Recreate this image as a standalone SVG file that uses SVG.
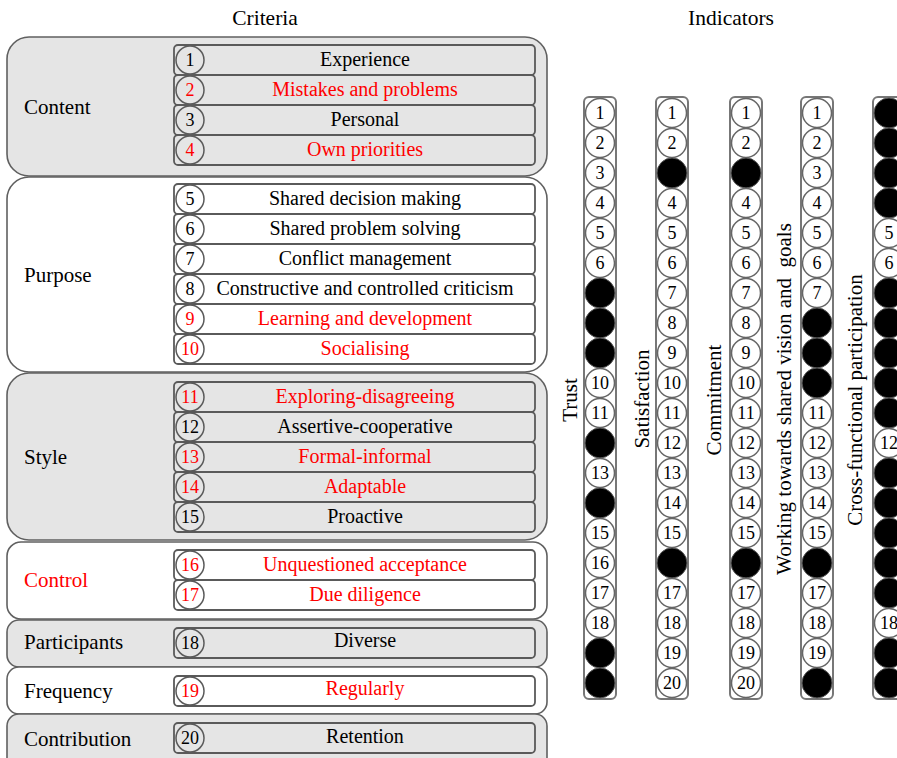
<svg xmlns="http://www.w3.org/2000/svg" width="897" height="758" viewBox="0 0 897 758">
<style>
text{font-family:"Liberation Serif","Times New Roman",serif;fill:#000}
.hd{font-size:21.5px;text-anchor:middle}
.gl{font-size:21px}
.rt{font-size:20px;text-anchor:middle}
.nm{font-size:18px;text-anchor:middle}
.red{fill:#ff0000}
.gg{fill:#e5e5e5;stroke:#606060;stroke-width:1.6}
.gw{fill:#ffffff;stroke:#606060;stroke-width:1.6}
.rg{fill:#e5e5e5;stroke:#5a5a5a;stroke-width:1.8}
.rw{fill:#ffffff;stroke:#5a5a5a;stroke-width:1.8}
.cg{fill:#e5e5e5;stroke:#5a5a5a;stroke-width:1.5}
.cw{fill:#ffffff;stroke:#5a5a5a;stroke-width:1.5}
.col{fill:#ffffff;stroke:#777;stroke-width:2}
.ow{fill:#ffffff;stroke:#666;stroke-width:1.5}
.ob{fill:#000;stroke:#555;stroke-width:1}
.vl{font-size:21px;text-anchor:middle}
</style>
<text class="hd" x="265" y="25">Criteria</text>
<text class="hd" x="731" y="25">Indicators</text>

<g id="content">
<rect class="gg" x="7" y="37" width="540" height="139" rx="22"/>
<text class="gl" x="24" y="114">Content</text>
<rect class="rg" x="174" y="45" width="361" height="30" rx="4"/><circle class="cg" cx="190" cy="60" r="14"/><text class="nm" x="190" y="66">1</text><text class="rt" x="365" y="66">Experience</text>
<rect class="rg" x="174" y="75" width="361" height="30" rx="4"/><circle class="cg" cx="190" cy="90" r="14"/><text class="nm red" x="190" y="96">2</text><text class="rt red" x="365" y="96">Mistakes and problems</text>
<rect class="rg" x="174" y="105" width="361" height="30" rx="4"/><circle class="cg" cx="190" cy="120" r="14"/><text class="nm" x="190" y="126">3</text><text class="rt" x="365" y="126">Personal</text>
<rect class="rg" x="174" y="135" width="361" height="30" rx="4"/><circle class="cg" cx="190" cy="150" r="14"/><text class="nm red" x="190" y="156">4</text><text class="rt red" x="365" y="156">Own priorities</text>
</g>

<g id="purpose">
<rect class="gw" x="7" y="177" width="540" height="195" rx="22"/>
<text class="gl" x="24" y="282">Purpose</text>
<rect class="rw" x="174" y="184" width="361" height="30" rx="4"/><circle class="cw" cx="190" cy="199" r="14"/><text class="nm" x="190" y="205">5</text><text class="rt" x="365" y="205">Shared decision making</text>
<rect class="rw" x="174" y="214" width="361" height="30" rx="4"/><circle class="cw" cx="190" cy="229" r="14"/><text class="nm" x="190" y="235">6</text><text class="rt" x="365" y="235">Shared problem solving</text>
<rect class="rw" x="174" y="244" width="361" height="30" rx="4"/><circle class="cw" cx="190" cy="259" r="14"/><text class="nm" x="190" y="265">7</text><text class="rt" x="365" y="265">Conflict management</text>
<rect class="rw" x="174" y="274" width="361" height="30" rx="4"/><circle class="cw" cx="190" cy="289" r="14"/><text class="nm" x="190" y="295">8</text><text class="rt" x="365" y="295">Constructive and controlled criticism</text>
<rect class="rw" x="174" y="304" width="361" height="30" rx="4"/><circle class="cw" cx="190" cy="319" r="14"/><text class="nm red" x="190" y="325">9</text><text class="rt red" x="365" y="325">Learning and development</text>
<rect class="rw" x="174" y="334" width="361" height="30" rx="4"/><circle class="cw" cx="190" cy="349" r="14"/><text class="nm red" x="190" y="355">10</text><text class="rt red" x="365" y="355">Socialising</text>
</g>

<g id="style">
<rect class="gg" x="7" y="373" width="540" height="167" rx="22"/>
<text class="gl" x="24" y="464">Style</text>
<rect class="rg" x="174" y="382" width="361" height="30" rx="4"/><circle class="cg" cx="190" cy="397" r="14"/><text class="nm red" x="190" y="403">11</text><text class="rt red" x="365" y="403">Exploring-disagreeing</text>
<rect class="rg" x="174" y="412" width="361" height="30" rx="4"/><circle class="cg" cx="190" cy="427" r="14"/><text class="nm" x="190" y="433">12</text><text class="rt" x="365" y="433">Assertive-cooperative</text>
<rect class="rg" x="174" y="442" width="361" height="30" rx="4"/><circle class="cg" cx="190" cy="457" r="14"/><text class="nm red" x="190" y="463">13</text><text class="rt red" x="365" y="463">Formal-informal</text>
<rect class="rg" x="174" y="472" width="361" height="30" rx="4"/><circle class="cg" cx="190" cy="487" r="14"/><text class="nm red" x="190" y="493">14</text><text class="rt red" x="365" y="493">Adaptable</text>
<rect class="rg" x="174" y="502" width="361" height="30" rx="4"/><circle class="cg" cx="190" cy="517" r="14"/><text class="nm" x="190" y="523">15</text><text class="rt" x="365" y="523">Proactive</text>
</g>

<g id="control">
<rect class="gw" x="7" y="542" width="540" height="77" rx="14"/>
<text class="gl red" x="24" y="587">Control</text>
<rect class="rw" x="174" y="550" width="361" height="30" rx="4"/><circle class="cw" cx="190" cy="565" r="14"/><text class="nm red" x="190" y="571">16</text><text class="rt red" x="365" y="571">Unquestioned acceptance</text>
<rect class="rw" x="174" y="580" width="361" height="30" rx="4"/><circle class="cw" cx="190" cy="595" r="14"/><text class="nm red" x="190" y="601">17</text><text class="rt red" x="365" y="601">Due diligence</text>
</g>

<g id="participants">
<rect class="gg" x="7" y="620" width="540" height="47" rx="12"/>
<text class="gl" x="24" y="649">Participants</text>
<rect class="rg" x="174" y="628" width="361" height="30" rx="4"/><circle class="cg" cx="190" cy="643" r="14"/><text class="nm" x="190" y="649">18</text><text class="rt" x="365" y="647">Diverse</text>
</g>

<g id="frequency">
<rect class="gw" x="7" y="667" width="540" height="47" rx="12"/>
<text class="gl" x="24" y="698">Frequency</text>
<rect class="rw" x="174" y="676" width="361" height="30" rx="4"/><circle class="cw" cx="190" cy="691" r="14"/><text class="nm red" x="190" y="697">19</text><text class="rt red" x="365" y="695">Regularly</text>
</g>

<g id="contribution">
<rect class="gg" x="7" y="714" width="540" height="60" rx="12"/>
<text class="gl" x="24" y="746">Contribution</text>
<rect class="rg" x="174" y="723" width="361" height="30" rx="4"/><circle class="cg" cx="190" cy="738" r="14"/><text class="nm" x="190" y="744">20</text><text class="rt" x="365" y="743">Retention</text>
</g>

<g id="trust">
<text class="vl" transform="translate(577,400) rotate(-90)">Trust</text>
<rect class="col" x="584" y="97" width="32" height="602" rx="5"/>
<circle class="ow" cx="600" cy="113" r="14.5"/><text class="nm" x="600" y="119">1</text>
<circle class="ow" cx="600" cy="143" r="14.5"/><text class="nm" x="600" y="149">2</text>
<circle class="ow" cx="600" cy="173" r="14.5"/><text class="nm" x="600" y="179">3</text>
<circle class="ow" cx="600" cy="203" r="14.5"/><text class="nm" x="600" y="209">4</text>
<circle class="ow" cx="600" cy="233" r="14.5"/><text class="nm" x="600" y="239">5</text>
<circle class="ow" cx="600" cy="263" r="14.5"/><text class="nm" x="600" y="269">6</text>
<circle class="ob" cx="600" cy="293" r="15"/>
<circle class="ob" cx="600" cy="323" r="15"/>
<circle class="ob" cx="600" cy="353" r="15"/>
<circle class="ow" cx="600" cy="383" r="14.5"/><text class="nm" x="600" y="389">10</text>
<circle class="ow" cx="600" cy="413" r="14.5"/><text class="nm" x="600" y="419">11</text>
<circle class="ob" cx="600" cy="443" r="15"/>
<circle class="ow" cx="600" cy="473" r="14.5"/><text class="nm" x="600" y="479">13</text>
<circle class="ob" cx="600" cy="503" r="15"/>
<circle class="ow" cx="600" cy="533" r="14.5"/><text class="nm" x="600" y="539">15</text>
<circle class="ow" cx="600" cy="563" r="14.5"/><text class="nm" x="600" y="569">16</text>
<circle class="ow" cx="600" cy="593" r="14.5"/><text class="nm" x="600" y="599">17</text>
<circle class="ow" cx="600" cy="623" r="14.5"/><text class="nm" x="600" y="629">18</text>
<circle class="ob" cx="600" cy="653" r="15"/>
<circle class="ob" cx="600" cy="683" r="15"/>
</g>

<g id="satisfaction">
<text class="vl" transform="translate(649,399) rotate(-90)">Satisfaction</text>
<rect class="col" x="656" y="97" width="32" height="602" rx="5"/>
<circle class="ow" cx="672" cy="113" r="14.5"/><text class="nm" x="672" y="119">1</text>
<circle class="ow" cx="672" cy="143" r="14.5"/><text class="nm" x="672" y="149">2</text>
<circle class="ob" cx="672" cy="173" r="15"/>
<circle class="ow" cx="672" cy="203" r="14.5"/><text class="nm" x="672" y="209">4</text>
<circle class="ow" cx="672" cy="233" r="14.5"/><text class="nm" x="672" y="239">5</text>
<circle class="ow" cx="672" cy="263" r="14.5"/><text class="nm" x="672" y="269">6</text>
<circle class="ow" cx="672" cy="293" r="14.5"/><text class="nm" x="672" y="299">7</text>
<circle class="ow" cx="672" cy="323" r="14.5"/><text class="nm" x="672" y="329">8</text>
<circle class="ow" cx="672" cy="353" r="14.5"/><text class="nm" x="672" y="359">9</text>
<circle class="ow" cx="672" cy="383" r="14.5"/><text class="nm" x="672" y="389">10</text>
<circle class="ow" cx="672" cy="413" r="14.5"/><text class="nm" x="672" y="419">11</text>
<circle class="ow" cx="672" cy="443" r="14.5"/><text class="nm" x="672" y="449">12</text>
<circle class="ow" cx="672" cy="473" r="14.5"/><text class="nm" x="672" y="479">13</text>
<circle class="ow" cx="672" cy="503" r="14.5"/><text class="nm" x="672" y="509">14</text>
<circle class="ow" cx="672" cy="533" r="14.5"/><text class="nm" x="672" y="539">15</text>
<circle class="ob" cx="672" cy="563" r="15"/>
<circle class="ow" cx="672" cy="593" r="14.5"/><text class="nm" x="672" y="599">17</text>
<circle class="ow" cx="672" cy="623" r="14.5"/><text class="nm" x="672" y="629">18</text>
<circle class="ow" cx="672" cy="653" r="14.5"/><text class="nm" x="672" y="659">19</text>
<circle class="ow" cx="672" cy="683" r="14.5"/><text class="nm" x="672" y="689">20</text>
</g>

<g id="commitment">
<text class="vl" transform="translate(721,400) rotate(-90)">Commitment</text>
<rect class="col" x="730" y="97" width="32" height="602" rx="5"/>
<circle class="ow" cx="746" cy="113" r="14.5"/><text class="nm" x="746" y="119">1</text>
<circle class="ow" cx="746" cy="143" r="14.5"/><text class="nm" x="746" y="149">2</text>
<circle class="ob" cx="746" cy="173" r="15"/>
<circle class="ow" cx="746" cy="203" r="14.5"/><text class="nm" x="746" y="209">4</text>
<circle class="ow" cx="746" cy="233" r="14.5"/><text class="nm" x="746" y="239">5</text>
<circle class="ow" cx="746" cy="263" r="14.5"/><text class="nm" x="746" y="269">6</text>
<circle class="ow" cx="746" cy="293" r="14.5"/><text class="nm" x="746" y="299">7</text>
<circle class="ow" cx="746" cy="323" r="14.5"/><text class="nm" x="746" y="329">8</text>
<circle class="ow" cx="746" cy="353" r="14.5"/><text class="nm" x="746" y="359">9</text>
<circle class="ow" cx="746" cy="383" r="14.5"/><text class="nm" x="746" y="389">10</text>
<circle class="ow" cx="746" cy="413" r="14.5"/><text class="nm" x="746" y="419">11</text>
<circle class="ow" cx="746" cy="443" r="14.5"/><text class="nm" x="746" y="449">12</text>
<circle class="ow" cx="746" cy="473" r="14.5"/><text class="nm" x="746" y="479">13</text>
<circle class="ow" cx="746" cy="503" r="14.5"/><text class="nm" x="746" y="509">14</text>
<circle class="ow" cx="746" cy="533" r="14.5"/><text class="nm" x="746" y="539">15</text>
<circle class="ob" cx="746" cy="563" r="15"/>
<circle class="ow" cx="746" cy="593" r="14.5"/><text class="nm" x="746" y="599">17</text>
<circle class="ow" cx="746" cy="623" r="14.5"/><text class="nm" x="746" y="629">18</text>
<circle class="ow" cx="746" cy="653" r="14.5"/><text class="nm" x="746" y="659">19</text>
<circle class="ow" cx="746" cy="683" r="14.5"/><text class="nm" x="746" y="689">20</text>
</g>

<g id="working">
<text class="vl" transform="translate(791,399) rotate(-90)" xml:space="preserve">Working towards shared vision and  goals</text>
<rect class="col" x="801" y="97" width="32" height="602" rx="5"/>
<circle class="ow" cx="817" cy="113" r="14.5"/><text class="nm" x="817" y="119">1</text>
<circle class="ow" cx="817" cy="143" r="14.5"/><text class="nm" x="817" y="149">2</text>
<circle class="ow" cx="817" cy="173" r="14.5"/><text class="nm" x="817" y="179">3</text>
<circle class="ow" cx="817" cy="203" r="14.5"/><text class="nm" x="817" y="209">4</text>
<circle class="ow" cx="817" cy="233" r="14.5"/><text class="nm" x="817" y="239">5</text>
<circle class="ow" cx="817" cy="263" r="14.5"/><text class="nm" x="817" y="269">6</text>
<circle class="ow" cx="817" cy="293" r="14.5"/><text class="nm" x="817" y="299">7</text>
<circle class="ob" cx="817" cy="323" r="15"/>
<circle class="ob" cx="817" cy="353" r="15"/>
<circle class="ob" cx="817" cy="383" r="15"/>
<circle class="ow" cx="817" cy="413" r="14.5"/><text class="nm" x="817" y="419">11</text>
<circle class="ow" cx="817" cy="443" r="14.5"/><text class="nm" x="817" y="449">12</text>
<circle class="ow" cx="817" cy="473" r="14.5"/><text class="nm" x="817" y="479">13</text>
<circle class="ow" cx="817" cy="503" r="14.5"/><text class="nm" x="817" y="509">14</text>
<circle class="ow" cx="817" cy="533" r="14.5"/><text class="nm" x="817" y="539">15</text>
<circle class="ob" cx="817" cy="563" r="15"/>
<circle class="ow" cx="817" cy="593" r="14.5"/><text class="nm" x="817" y="599">17</text>
<circle class="ow" cx="817" cy="623" r="14.5"/><text class="nm" x="817" y="629">18</text>
<circle class="ow" cx="817" cy="653" r="14.5"/><text class="nm" x="817" y="659">19</text>
<circle class="ob" cx="817" cy="683" r="15"/>
</g>

<g id="crossfunctional">
<text class="vl" transform="translate(862,400) rotate(-90)">Cross-functional participation</text>
<rect class="col" x="873" y="97" width="32" height="602" rx="5"/>
<circle class="ob" cx="889" cy="113" r="15"/>
<circle class="ob" cx="889" cy="143" r="15"/>
<circle class="ob" cx="889" cy="173" r="15"/>
<circle class="ob" cx="889" cy="203" r="15"/>
<circle class="ow" cx="889" cy="233" r="14.5"/><text class="nm" x="889" y="239">5</text>
<circle class="ow" cx="889" cy="263" r="14.5"/><text class="nm" x="889" y="269">6</text>
<circle class="ob" cx="889" cy="293" r="15"/>
<circle class="ob" cx="889" cy="323" r="15"/>
<circle class="ob" cx="889" cy="353" r="15"/>
<circle class="ob" cx="889" cy="383" r="15"/>
<circle class="ob" cx="889" cy="413" r="15"/>
<circle class="ow" cx="889" cy="443" r="14.5"/><text class="nm" x="889" y="449">12</text>
<circle class="ob" cx="889" cy="473" r="15"/>
<circle class="ob" cx="889" cy="503" r="15"/>
<circle class="ob" cx="889" cy="533" r="15"/>
<circle class="ob" cx="889" cy="563" r="15"/>
<circle class="ob" cx="889" cy="593" r="15"/>
<circle class="ow" cx="889" cy="623" r="14.5"/><text class="nm" x="889" y="629">18</text>
<circle class="ob" cx="889" cy="653" r="15"/>
<circle class="ob" cx="889" cy="683" r="15"/>
</g>
</svg>
